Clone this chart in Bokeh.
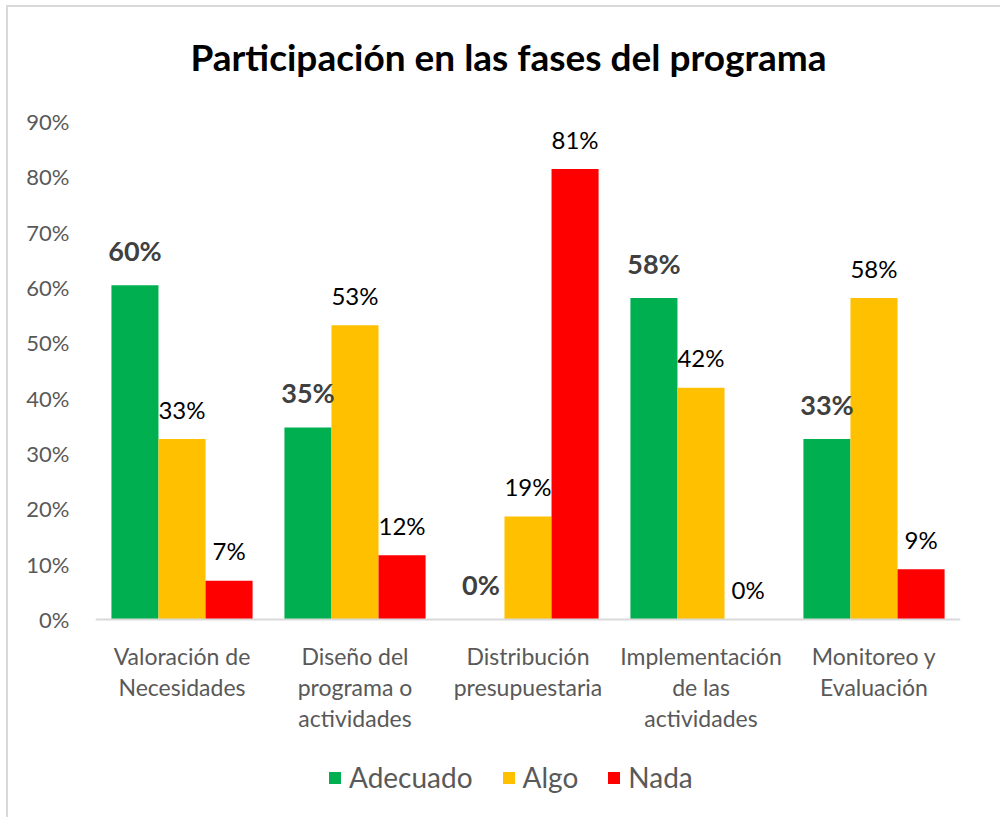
from bokeh.plotting import figure
from bokeh.models import ColumnDataSource, LabelSet, Label, Legend, LegendItem, FixedTicker, NumeralTickFormatter, Range1d
from bokeh.transform import dodge
from bokeh.core.properties import value
from bokeh.embed import file_html
from bokeh.resources import INLINE

# ---- data ----
categories = [
    "Valoración de\nNecesidades",
    "Diseño del\nprograma o\nactividades",
    "Distribución\npresupuestaria",
    "Implementación\nde las\nactividades",
    "Monitoreo y\nEvaluación",
]
adecuado = [0.604, 0.347, 0.0, 0.581, 0.326]
algo = [0.326, 0.532, 0.186, 0.419, 0.581]
nada = [0.070, 0.116, 0.814, 0.0, 0.091]
series_names = ["Adecuado", "Algo", "Nada"]
series_colors = ["#00B050", "#FFC000", "#FF0000"]
y_ticks = [0.0, 0.1, 0.2, 0.3, 0.4, 0.5, 0.6, 0.7, 0.8, 0.9]
title_text = "Participación en las fases del programa"

FONT = "Lato"
idx = list(range(len(categories)))

def pct(vals):
    return [f"{round(v * 100)}%" for v in vals]

src = ColumnDataSource(dict(
    x=idx,
    Adecuado=adecuado, Algo=algo, Nada=nada,
    Adecuado_lbl=pct(adecuado), Algo_lbl=pct(algo), Nada_lbl=pct(nada),
))

W, H = 994, 812
p = figure(
    width=W, height=H,
    x_range=Range1d(-0.5, 4.5), y_range=Range1d(-0.3615, 1.1061),
    output_backend="svg", toolbar_location=None,
    min_border_left=87, min_border_right=W - 952,
    min_border_top=0, min_border_bottom=0,
    styles={"border-top": "2px solid #D9D9D9", "border-left": "2px solid #D9D9D9",
            "margin-left": "6px", "margin-top": "5px"},
)
p.outline_line_color = None
p.xgrid.visible = False
p.ygrid.visible = False

# title (screen units, relative to the frame's bottom-left)
p.add_layout(Label(
    x=413, y=H - 49, x_units="screen", y_units="screen",
    text=title_text, text_align="center", text_baseline="middle",
    text_font=FONT, text_font_size="37px", text_font_style="bold", text_color="#000000",
))

# y axis
ya = p.yaxis[0]
ya.ticker = FixedTicker(ticks=y_ticks)
ya.formatter = NumeralTickFormatter(format="0%")
ya.axis_line_color = None
ya.major_tick_line_color = None
ya.minor_tick_line_color = None
ya.major_label_text_font = FONT
ya.major_label_text_font_size = "22px"
ya.major_label_text_color = "#595959"
ya.major_label_standoff = 20

# x axis, drawn at y = 0
xa = p.xaxis[0]
xa.fixed_location = 0
xa.ticker = FixedTicker(ticks=idx)
xa.major_label_overrides = {i: c for i, c in zip(idx, categories)}
xa.axis_line_color = "#D9D9D9"
xa.axis_line_width = 2
xa.major_tick_line_color = None
xa.minor_tick_line_color = None
xa.major_label_text_font = FONT
xa.major_label_text_font_size = "23px"
xa.major_label_text_color = "#595959"
xa.major_label_text_line_height = 1.09
xa.major_label_standoff = 17

bar_w = 0.272
offsets = [-bar_w, 0.0, bar_w]
renderers = []
for name, color, off in zip(series_names, series_colors, offsets):
    r = p.vbar(x=dodge("x", off, range=p.x_range), top=name, width=bar_w,
               source=src, fill_color=color, line_color=None)
    renderers.append(r)
    bold = name == "Adecuado"
    lbl = LabelSet(
        x=dodge("x", off, range=p.x_range), y=name, text=name + "_lbl", source=src,
        text_align="center", text_baseline="middle",
        y_offset=35 if bold else 30,
        text_font=value(FONT),
        text_font_size=value("27px" if bold else "24px"),
        text_font_style=value("bold" if bold else "normal"),
        text_color=value("#404040" if bold else "#000000"),
    )
    p.add_layout(lbl)

legend = Legend(
    items=[LegendItem(label=n, renderers=[r]) for n, r in zip(series_names, renderers)],
    orientation="horizontal", location=(232, 25),
    border_line_color=None, background_fill_alpha=0,
    label_text_font=FONT, label_text_font_size="28px", label_text_color="#595959",
    glyph_height=15, glyph_width=15, label_standoff=7, spacing=28,
    padding=5, margin=0,
)
p.add_layout(legend)

open("out.html", "w").write(file_html(p, INLINE))
